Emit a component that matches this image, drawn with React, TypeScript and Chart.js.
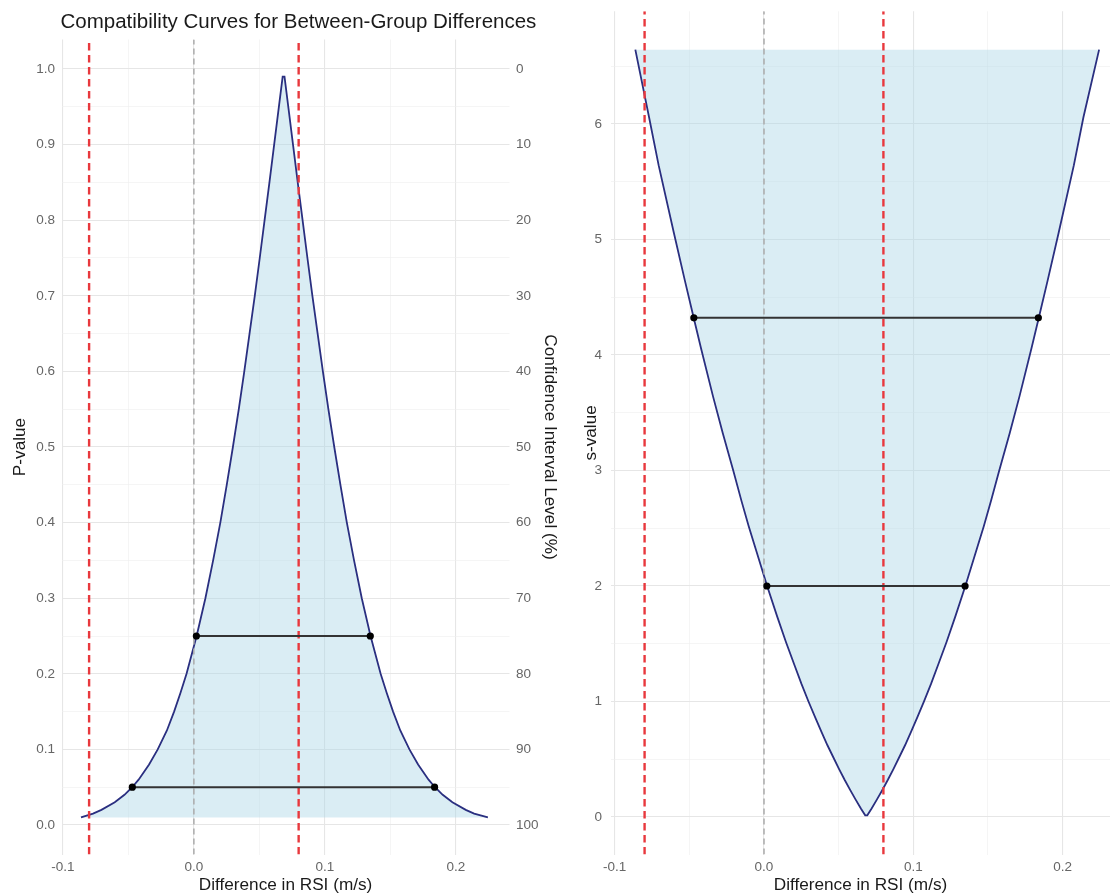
import React, { useEffect, useRef } from "react";
import { Chart, registerables } from "chart.js";

Chart.register(...registerables);

const FONT = '"Liberation Sans", Arial, Helvetica, sans-serif';
const TITLE = "Compatibility Curves for Between-Group Differences";
const X_TITLE = "Difference in RSI (m/s)";
const P_TITLE = "P-value";
const CI_TITLE = "Confidence Interval Level (%)";
const S_TITLE = "s-value";

// curve: x positions (difference in RSI)
const curveX = [
  -0.0862, -0.077, -0.0706, -0.0604, -0.053, -0.0471, -0.0422, -0.0342, -0.0276, -0.0206,
  -0.0151, -0.0102, -0.0056, 0.0021, 0.0088, 0.0147, 0.0202, 0.0251, 0.0298, 0.0343,
  0.0385, 0.0425, 0.0465, 0.0503, 0.054, 0.0577, 0.0613, 0.0649, 0.0678,
  0.0692, 0.0721, 0.0757, 0.0793, 0.083, 0.0867, 0.0905, 0.0945, 0.0985, 0.1027,
  0.1072, 0.1119, 0.1168, 0.1223, 0.1282, 0.1349, 0.1426, 0.1472, 0.1521, 0.1576,
  0.1646, 0.1712, 0.1792, 0.1841, 0.19, 0.1974, 0.2076, 0.214, 0.2245,
];
// p-values along the curve
const curveP = [
  0.01, 0.015, 0.02, 0.03, 0.04, 0.05, 0.06, 0.08, 0.1, 0.125,
  0.15, 0.175, 0.2, 0.25, 0.3, 0.35, 0.4, 0.45, 0.5, 0.55,
  0.6, 0.65, 0.7, 0.75, 0.8, 0.85, 0.9, 0.95, 0.99,
  0.99, 0.95, 0.9, 0.85, 0.8, 0.75, 0.7, 0.65, 0.6, 0.55,
  0.5, 0.45, 0.4, 0.35, 0.3, 0.25, 0.2, 0.175, 0.15, 0.125,
  0.1, 0.08, 0.06, 0.05, 0.04, 0.03, 0.02, 0.015, 0.01,
];
// s-values along the curve
const curveS = [
  6.644, 6.059, 5.644, 5.059, 4.644, 4.322, 4.059, 3.644, 3.322, 3.0,
  2.737, 2.515, 2.322, 2.0, 1.737, 1.515, 1.322, 1.152, 1.0, 0.862,
  0.737, 0.621, 0.515, 0.415, 0.322, 0.234, 0.152, 0.074, 0.0145,
  0.0145, 0.074, 0.152, 0.234, 0.322, 0.415, 0.515, 0.621, 0.737, 0.862,
  1.0, 1.152, 1.322, 1.515, 1.737, 2.0, 2.322, 2.515, 2.737, 3.0,
  3.322, 3.644, 4.059, 4.322, 4.644, 5.059, 5.644, 6.059, 6.644,
];

// interval segments (95% and 75%)
const segLow = [-0.047, 0.0019];
const segHigh = [0.1838, 0.1347];
const segP = [0.05, 0.25];
const segS = [4.322, 2.0];

// reference lines
const nullValue = [0];
const smallestEffect = [-0.08, 0.08];

// axis limits
const leftX = { min: -0.101, max: 0.241 };
const leftY = { min: -0.039, max: 1.039 };
const rightX = { min: -0.1025, max: 0.2318 };
const rightY = { min: -0.325, max: 6.976 };
const pFloor = 0.01;
const sCeil = 6.644;

const NAVY = "#2a2f80";
const FILL = "rgba(173, 216, 230, 0.45)";
const RED = "#e8383d";
const GREY = "#ababab";
const SEG = "#333333";
const TICK_COLOR = "#666666";
const TEXT = "#1a1a1a";
const MAJOR = "#e6e6e6";
const MINOR = "#efefef";

const tickFont = { family: FONT, size: 13.5 };
const titleFont = { family: FONT, size: 17.2 };

const isMult = (v: number, step: number) => {
  const r = v / step;
  return Math.abs(r - Math.round(r)) < 1e-6;
};

const gridOpts = (step: number) => ({
  drawTicks: false,
  color: (c: any) => (c.tick && isMult(c.tick.value, step) ? MAJOR : MINOR),
  lineWidth: (c: any) => (c.tick && isMult(c.tick.value, step) ? 1.1 : 0.6),
});

const fixSize = (prop: "width" | "height", size: number) => (s: any) => {
  s[prop] = size;
  s.paddingTop = 0;
  s.paddingBottom = 0;
  s.paddingLeft = 0;
  s.paddingRight = 0;
};

const titlePlugin = {
  id: "mainTitle",
  afterDraw(chart: any) {
    const ctx = chart.ctx;
    ctx.save();
    ctx.font = `20.5px ${FONT}`;
    ctx.fillStyle = TEXT;
    ctx.textBaseline = "alphabetic";
    ctx.textAlign = "left";
    ctx.fillText(TITLE, 60.5, 27.5);
    ctx.restore();
  },
};

function vline(x: number, yMin: number, yMax: number, color: string, width: number, dash: number[], order: number) {
  return {
    data: [
      { x, y: yMin },
      { x, y: yMax },
    ],
    showLine: true,
    borderColor: color,
    borderWidth: width,
    borderDash: dash,
    pointRadius: 0,
    order,
  };
}

function segment(i: number, ys: number[]) {
  return {
    data: [
      { x: segLow[i], y: ys[i] },
      { x: segHigh[i], y: ys[i] },
    ],
    showLine: true,
    borderColor: SEG,
    borderWidth: 2,
    pointRadius: 3.6,
    pointBackgroundColor: "#000000",
    pointBorderColor: "#000000",
    pointBorderWidth: 0,
    order: 1,
  };
}

function xScale(lim: { min: number; max: number }, height: number) {
  return {
    type: "linear",
    position: "bottom",
    min: lim.min,
    max: lim.max,
    ticks: {
      stepSize: 0.05,
      includeBounds: false,
      autoSkip: false,
      maxRotation: 0,
      padding: 5,
      color: TICK_COLOR,
      font: tickFont,
      callback: (v: number) => (isMult(v, 0.1) ? (Math.round(v * 10) / 10).toFixed(1) : ""),
    },
    grid: gridOpts(0.1),
    border: { display: false },
    title: { display: true, text: X_TITLE, color: TEXT, font: titleFont, padding: { top: 0, bottom: 0 } },
    afterFit: fixSize("height", height),
  };
}

function makeLeft(canvas: HTMLCanvasElement) {
  const curve = curveX.map((x, i) => ({ x, y: curveP[i] }));
  return new Chart(canvas, {
    type: "scatter",
    data: {
      datasets: [
        segment(0, segP),
        segment(1, segP),
        ...smallestEffect.map((x) => vline(x, leftY.min, leftY.max, RED, 2.4, [7.5, 4.5], 2)),
        ...nullValue.map((x) => vline(x, leftY.min, leftY.max, GREY, 1.5, [6, 4], 3)),
        {
          data: curve,
          showLine: true,
          borderColor: NAVY,
          borderWidth: 1.8,
          backgroundColor: FILL,
          fill: { value: pFloor },
          pointRadius: 0,
          tension: 0,
          order: 4,
        },
      ],
    } as any,
    options: {
      responsive: false,
      animation: false,
      events: [],
      layout: { autoPadding: false, padding: { top: 39.5, left: 0, right: 0, bottom: 0 } },
      plugins: { legend: { display: false }, tooltip: { enabled: false } },
      scales: {
        x: xScale(leftX, 41.5),
        y: {
          type: "linear",
          position: "left",
          min: leftY.min,
          max: leftY.max,
          ticks: {
            stepSize: 0.05,
            includeBounds: false,
            autoSkip: false,
            padding: 6.5,
            color: TICK_COLOR,
            font: tickFont,
            callback: (v: number) => (isMult(v, 0.1) ? (Math.round(v * 10) / 10).toFixed(1) : ""),
          },
          grid: gridOpts(0.1),
          border: { display: false },
          title: { display: true, text: P_TITLE, color: TEXT, font: titleFont, padding: { top: 9.5, bottom: 0 } },
          afterFit: fixSize("width", 61.6),
        },
        y2: {
          type: "linear",
          position: "right",
          reverse: true,
          min: (1 - leftY.max) * 100,
          max: (1 - leftY.min) * 100,
          ticks: {
            stepSize: 10,
            includeBounds: false,
            autoSkip: false,
            padding: 6.5,
            color: TICK_COLOR,
            font: tickFont,
            callback: (v: number) => String(Math.round(v)),
          },
          grid: { display: false, drawTicks: false },
          border: { display: false },
          title: { display: true, text: CI_TITLE, color: TEXT, font: titleFont, padding: { top: 0, bottom: 0 } },
          afterFit: fixSize("width", 50.5),
        },
      },
    } as any,
    plugins: [titlePlugin],
  });
}

function makeRight(canvas: HTMLCanvasElement) {
  const curve = curveX.map((x, i) => ({ x, y: curveS[i] }));
  return new Chart(canvas, {
    type: "scatter",
    data: {
      datasets: [
        segment(0, segS),
        segment(1, segS),
        ...smallestEffect.map((x) => vline(x, rightY.min, rightY.max, RED, 2.4, [7.5, 4.5], 2)),
        ...nullValue.map((x) => vline(x, rightY.min, rightY.max, GREY, 1.5, [6, 4], 3)),
        {
          data: curve,
          showLine: true,
          borderColor: NAVY,
          borderWidth: 1.8,
          backgroundColor: FILL,
          fill: { value: sCeil },
          pointRadius: 0,
          tension: 0,
          order: 4,
        },
      ],
    } as any,
    options: {
      responsive: false,
      animation: false,
      events: [],
      layout: { autoPadding: false, padding: { top: 11.3, left: 0, right: 0, bottom: 0 } },
      plugins: { legend: { display: false }, tooltip: { enabled: false } },
      scales: {
        x: xScale(rightX, 41.5),
        y: {
          type: "linear",
          position: "left",
          min: rightY.min,
          max: rightY.max,
          ticks: {
            stepSize: 0.5,
            includeBounds: false,
            autoSkip: false,
            padding: 9,
            color: TICK_COLOR,
            font: tickFont,
            callback: (v: number) => (isMult(v, 1) ? String(Math.round(v)) : ""),
          },
          grid: gridOpts(1),
          border: { display: false },
          title: { display: true, text: S_TITLE, color: TEXT, font: titleFont, padding: { top: 21, bottom: 0 } },
          afterFit: fixSize("width", 51),
        },
      },
    } as any,
  });
}

export default function App() {
  const leftRef = useRef<HTMLCanvasElement | null>(null);
  const rightRef = useRef<HTMLCanvasElement | null>(null);

  useEffect(() => {
    document.body.style.margin = "0";
    const a = makeLeft(leftRef.current as HTMLCanvasElement);
    const b = makeRight(rightRef.current as HTMLCanvasElement);
    return () => {
      a.destroy();
      b.destroy();
    };
  }, []);

  return (
    <div style={{ position: "fixed", left: 0, top: 0, width: 1110, height: 896, background: "#ffffff", overflow: "hidden" }}>
      <canvas ref={leftRef} width={560} height={896} style={{ position: "absolute", left: 0, top: 0, width: 560, height: 896 }} />
      <canvas ref={rightRef} width={550} height={896} style={{ position: "absolute", left: 560, top: 0, width: 550, height: 896 }} />
    </div>
  );
}
